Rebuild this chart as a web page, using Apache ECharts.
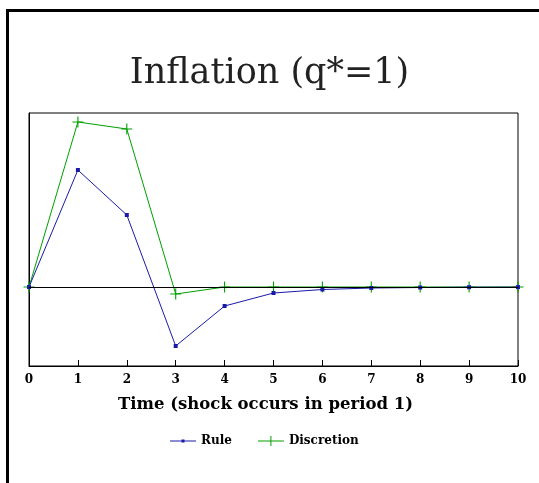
<!DOCTYPE html>
<html><head><meta charset="utf-8">
<script src="https://cdn.jsdelivr.net/npm/echarts@6/dist/echarts.min.js"></script>
<style>html,body{margin:0;padding:0;background:#fff}#c{width:539px;height:483px}</style>
</head><body><div id="c"></div>
<script>
const periods = [0,1,2,3,4,5,6,7,8,9,10];
const ruleValues = [0, 1.17, 0.72, -0.59, -0.19, -0.06, -0.025, -0.01, -0.005, -0.002, -0.001];
const discretionValues = [0, 1.65, 1.58, -0.07, 0, 0, 0, 0, 0, 0, 0];
const xTickLabels = ['0','1','2','3','4','5','6','7','8','9','10'];
const titleText = 'Inflation (q*=1)';
const xAxisTitle = 'Time (shock occurs in period 1)';

const plusPath = 'path://M4.5,0h1v10h-1z M0,4.5h10v1h-10z';
const chart = echarts.init(document.getElementById('c'));
chart.setOption({
  animation: false,
  backgroundColor: '#fff',
  title: {
    text: titleText, left: 'center', top: 51, padding: [5, 28, 5, 5],
    textStyle: {fontFamily: 'DejaVu Serif', fontWeight: 'normal', fontSize: 35, color: '#222'}
  },
  graphic: [
    {type: 'rect', shape: {x: 6, y: 9, width: 3, height: 480}, style: {fill: '#000'}},
    {type: 'rect', shape: {x: 6, y: 9, width: 540, height: 3}, style: {fill: '#000'}}
  ],
  grid: {left: 29, right: 21, top: 113, bottom: 117, show: true, borderColor: '#000', borderWidth: 1, backgroundColor: 'transparent'},
  legend: {
    bottom: 31, left: 165, itemWidth: 26, itemHeight: 10, itemGap: 26,
    textStyle: {fontFamily: 'DejaVu Serif', fontWeight: 'bold', fontSize: 12, color: '#000'},
    data: [
      {name: 'Rule', icon: 'path://M0,4.5h26v1h-26z M11.5,3.5h3v3h-3z'},
      {name: 'Discretion', icon: 'path://M0,4.5h26v1h-26z M12.5,0h1v10h-1z'}
    ]
  },
  xAxis: {
    type: 'value', min: 0, max: 10, interval: 1,
    name: xAxisTitle, nameLocation: 'middle', nameGap: 30,
    nameTextStyle: {fontFamily: 'DejaVu Serif', fontWeight: 'bold', fontSize: 16.5, color: '#000', padding: [0, 16, 0, 0]},
    axisLine: {show: true, onZero: false, lineStyle: {color: '#000', width: 1}},
    axisTick: {show: true, inside: true, length: 6, lineStyle: {color: '#000'}},
    axisLabel: {fontFamily: 'DejaVu Serif', fontWeight: 'bold', fontSize: 12, color: '#000', margin: 8,
      formatter: v => xTickLabels[v]},
    splitLine: {show: false}
  },
  yAxis: {
    type: 'value', min: -0.79, max: 1.74,
    axisLine: {show: true, lineStyle: {color: '#000'}}, axisTick: {show: false}, axisLabel: {show: false}, splitLine: {show: false}
  },
  series: [
    {
      name: 'Rule', type: 'line', data: periods.map((p, i) => [p, ruleValues[i]]),
      color: '#1a1aa8', symbol: 'rect', symbolSize: 4, showAllSymbol: true,
      lineStyle: {width: 1, color: '#1a1aa8'}, itemStyle: {color: '#1a1aa8'}, z: 3,
      markLine: {silent: true, symbol: 'none', label: {show: false}, lineStyle: {color: '#000', width: 1, type: 'solid'},
        data: [{yAxis: 0}]}
    },
    {
      name: 'Discretion', type: 'line', data: periods.map((p, i) => [p, discretionValues[i]]),
      color: '#00a000', symbol: plusPath, symbolSize: 11, showAllSymbol: true,
      lineStyle: {width: 1, color: '#00a000'}, itemStyle: {color: '#00a000'}, z: 2
    }
  ]
});
</script></body></html>
